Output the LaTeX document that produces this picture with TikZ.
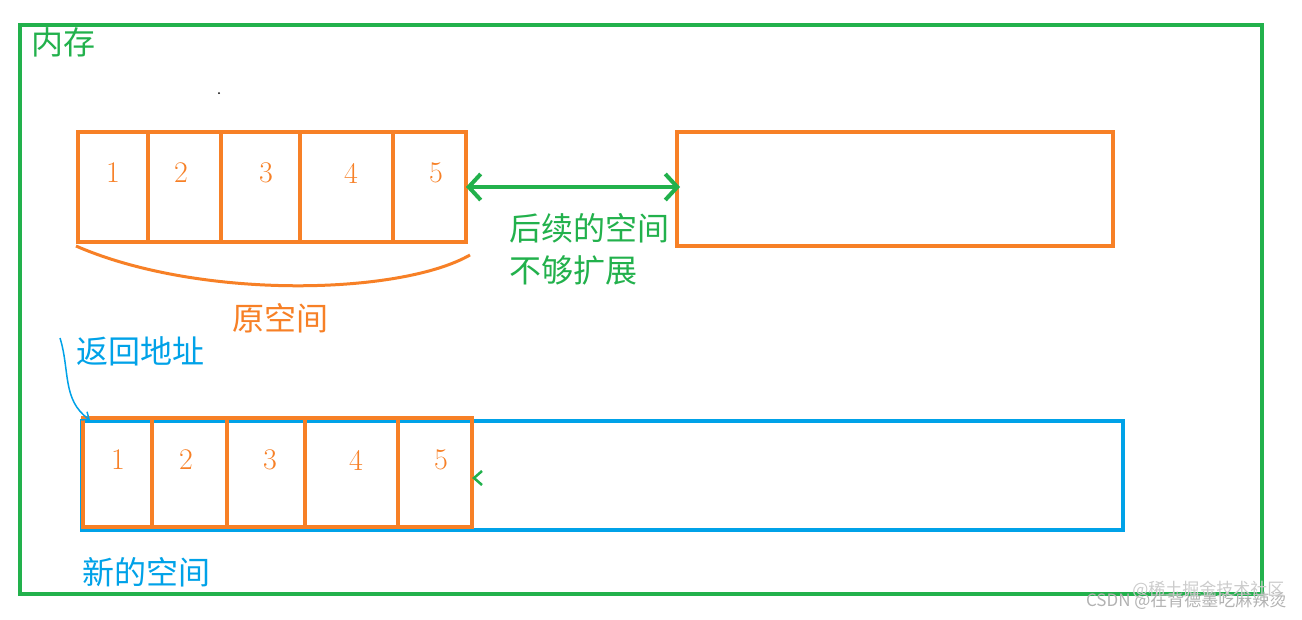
\documentclass[tikz,border=0pt]{standalone}
\usepackage{fontspec}
\newfontfamily\cjk{Noto Sans CJK SC}
\usetikzlibrary{arrows.meta}
\definecolor{gr}{RGB}{34,177,76}
\definecolor{og}{RGB}{247,128,38}
\definecolor{bl}{RGB}{0,162,232}
\tikzset{x=1pt,y=-1pt,
 gbox/.style={draw=gr,line width=4pt},
 obox/.style={draw=og,line width=4pt},
 bbox/.style={draw=bl,line width=4pt},
 num/.style={text=og,font=\fontsize{30}{32}\selectfont},
 lab/.style={font=\cjk\fontsize{32}{36}\selectfont,anchor=west}}
\begin{document}
\begin{tikzpicture}
\useasboundingbox (0,0) rectangle (1302,619);
\fill[white] (0,0) rectangle (1302,619);
\draw[gbox] (20,25) rectangle (1262,594);
\node[lab,text=gr] (mem) at (28,42) {内存};
\fill (219,93) circle (1pt);
% top boxes
\draw[obox] (78,132) rectangle (466,242);
\foreach \x in {148,221,300,393} \draw[obox] (\x,130) -- (\x,244);
\foreach \n/\x in {1/113,2/181,3/266,4/351,5/436} \node[num] (t\n) at (\x,173) {\n};
\draw[obox] (677,132) rectangle (1113,246);
\coordinate (al) at (466,187); \coordinate (ar) at (680,187);
\draw[draw=gr,line width=4pt,{Straight Barb[length=12pt,width=26pt]}-{Straight Barb[length=12pt,width=26pt]}] (al) -- (ar);
\node[lab,text=gr] (l1) at (506,228) {后续的空间};
\node[lab,text=gr] (l2) at (506,270) {不够扩展};
\draw[og,line width=3pt] (76,246) .. controls (200,300) and (400,295) .. (470,255);
\node[lab,text=og] (l3) at (229,318) {原空间};
% bottom
\node[lab,text=bl] (ret) at (73,351) {返回地址};
\draw[bbox] (82,421) rectangle (1123,530);
\draw[obox] (83,418) rectangle (472,527);
\foreach \x in {152,227,305,398} \draw[obox] (\x,416) -- (\x,529);
\foreach \n/\x in {1/118,2/186,3/270,4/356,5/441} \node[num] (b\n) at (\x,460) {\n};
\coordinate (s) at (60,338); \coordinate (e) at (90,420);
\draw[bl,line width=1.5pt,-{Straight Barb[length=6pt,width=10pt]}] (s) .. controls (70,370) and (62,400) .. (e);
\draw[gr,line width=2.5pt] (482,471) -- (474,478) -- (482,485);
\node[lab,text=bl] (new) at (79,572) {新的空间};
\node[text=gray!60,font=\cjk\fontsize{17}{19}\selectfont,anchor=east] (wm) at (1290,601) {CSDN @在背德墨吃麻辣烫};
\node[text=gray!40,font=\cjk\fontsize{17}{19}\selectfont,anchor=east] (wm2) at (1288,590) {@稀土掘金技术社区};
\end{tikzpicture}
\end{document}
